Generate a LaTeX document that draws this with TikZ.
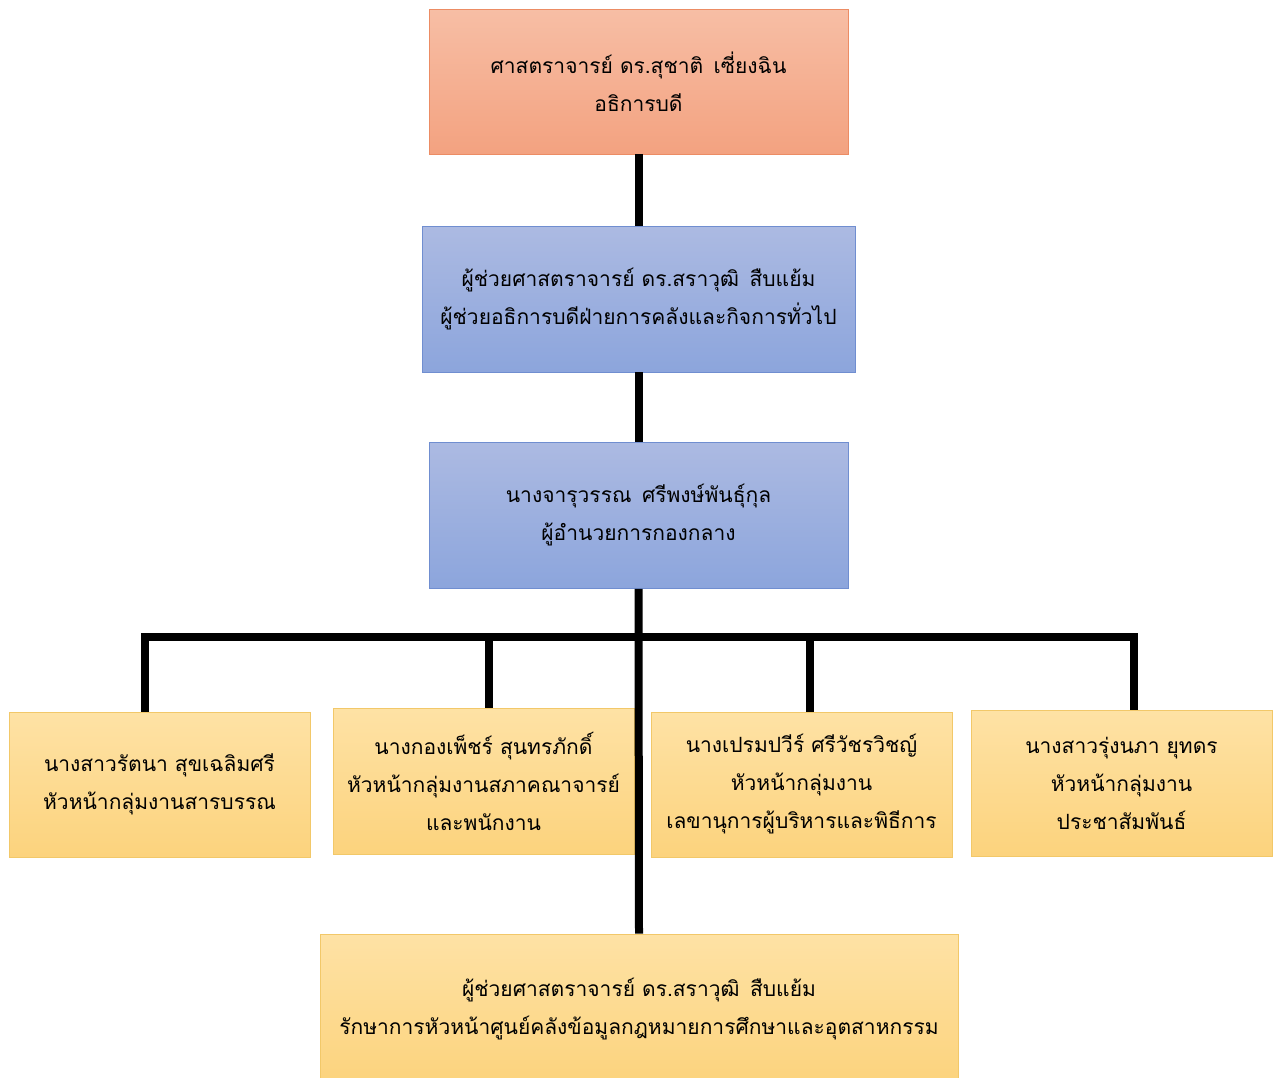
\documentclass[tikz,border=0pt]{standalone}
\usepackage{fontspec}
\newfontfamily\thaifont[Script=Thai]{Loma}
\definecolor{salmonT}{RGB}{247,190,165}
\definecolor{salmonB}{RGB}{243,162,128}
\definecolor{salmonD}{RGB}{236,140,100}
\definecolor{blueT}{RGB}{172,186,226}
\definecolor{blueB}{RGB}{140,165,220}
\definecolor{blueD}{RGB}{112,142,208}
\definecolor{goldT}{RGB}{254,226,165}
\definecolor{goldB}{RGB}{252,211,125}
\definecolor{goldD}{RGB}{242,200,105}
\begin{document}
\begin{tikzpicture}[x=1pt, y=-1pt,
  every node/.style={font=\thaifont\fontsize{21}{38}\selectfont, align=center, inner sep=0pt},
  chief/.style={draw=salmonD, line width=0.8pt, top color=salmonT, bottom color=salmonB, minimum width=419pt, minimum height=145pt},
  deputy/.style={draw=blueD, line width=0.8pt, top color=blueT, bottom color=blueB, minimum height=146pt},
  group/.style={draw=goldD, line width=0.8pt, top color=goldT, bottom color=goldB, minimum width=301pt, minimum height=145pt},
  conn/.style={line width=8pt, line join=miter}]
\useasboundingbox (0,0) rectangle (1277,1077);
\node[chief] (rector) at (638.5,81.5) {ศาสตราจารย์ ดร.สุชาติ\enspace เซี่ยงฉิน\\อธิการบดี};
\node[deputy, minimum width=433pt] (vp) at (638.5,299) {ผู้ช่วยศาสตราจารย์ ดร.สราวุฒิ\enspace สืบแย้ม\\ผู้ช่วยอธิการบดีฝ่ายการคลังและกิจการทั่วไป};
\node[deputy, minimum width=419pt] (dir) at (638.5,515.5) {นางจารุวรรณ\enspace ศรีพงษ์พันธุ์กุล\\ผู้อำนวยการกองกลาง};
\node[group] (g1) at (159.5,784.5) {นางสาวรัตนา สุขเฉลิมศรี\\หัวหน้ากลุ่มงานสารบรรณ};
\node[group, minimum height=146pt] (g2) at (483.5,781) {นางกองเพ็ชร์ สุนทรภักดิ์\\หัวหน้ากลุ่มงานสภาคณาจารย์\\และพนักงาน};
\node[group] (g3) at (801.5,784.5) {นางเปรมปวีร์ ศรีวัชรวิชญ์\\หัวหน้ากลุ่มงาน\\เลขานุการผู้บริหารและพิธีการ};
\node[group, minimum height=146pt] (g4) at (1121.5,783) {นางสาวรุ่งนภา ยุทดร\\หัวหน้ากลุ่มงาน\\ประชาสัมพันธ์};
\node[group, minimum width=638pt, minimum height=150pt] (center) at (639,1009) {ผู้ช่วยศาสตราจารย์ ดร.สราวุฒิ\enspace สืบแย้ม\\รักษาการหัวหน้าศูนย์คลังข้อมูลกฎหมายการศึกษาและอุตสาหกรรม};
\coordinate (bar) at (0,637);
\draw[conn] (rector) -- (vp);
\draw[conn] (vp) -- (dir);
\draw[conn] (dir.south) -- (center.north);
\draw[conn] ([xshift=-14.5pt]g1.north) |- ([xshift=12.5pt]g4.north |- bar) -- ([xshift=12.5pt]g4.north);
\draw[conn] ([xshift=5.5pt]g2.north) -- ([xshift=5.5pt]g2.north |- bar);
\draw[conn] ([xshift=8.5pt]g3.north) -- ([xshift=8.5pt]g3.north |- bar);
\end{tikzpicture}
\end{document}
